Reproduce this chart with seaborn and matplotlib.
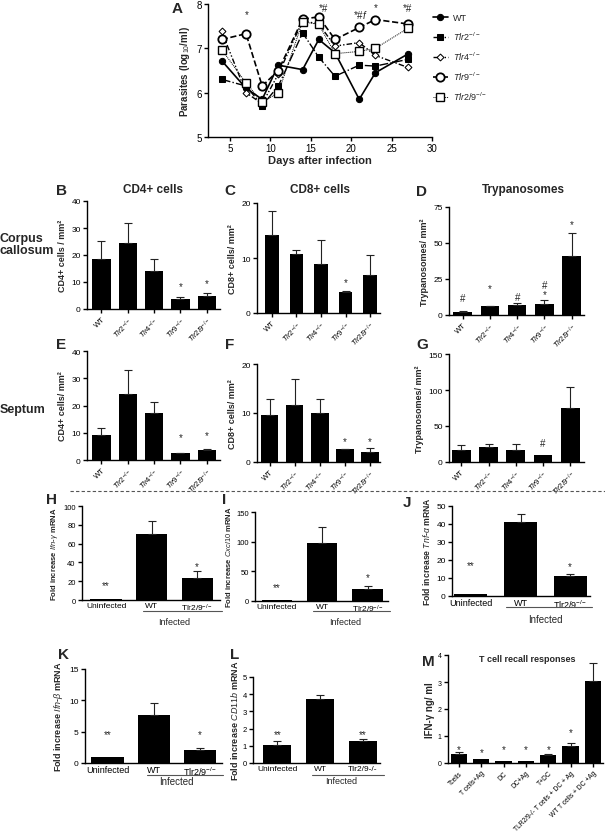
"""Recreate the multi-panel TLR / trypanosome figure."""

import matplotlib
matplotlib.use("Agg")
import matplotlib.pyplot as plt
import numpy as np
import pandas as pd
import seaborn as sns
from matplotlib.lines import Line2D

sns.set_style("ticks")
plt.rcParams["font.family"] = ["Liberation Sans", "DejaVu Sans"]
plt.rcParams["mathtext.fontset"] = "custom"
plt.rcParams["mathtext.rm"] = "Liberation Sans"
plt.rcParams["mathtext.it"] = "Liberation Sans:italic"
plt.rcParams["mathtext.bf"] = "Liberation Sans:bold"
plt.rcParams["axes.linewidth"] = 1.0
plt.rcParams["xtick.major.width"] = 1.0
plt.rcParams["ytick.major.width"] = 1.0
plt.rcParams["xtick.major.size"] = 3
plt.rcParams["ytick.major.size"] = 3

W, H = 605, 837

# ---- Panel A: parasitaemia ----
days = [4, 7, 9, 11, 14, 16, 18, 21, 23, 27]
para_wt = [6.72, 6.10, 5.85, 6.62, 6.52, 7.20, 6.90, 5.85, 6.45, 6.87]
para_tlr2 = [6.30, 6.15, 5.71, 6.15, 7.35, 6.80, 6.37, 6.62, 6.60, 6.75]
para_tlr4 = [7.38, 6.00, 5.75, 6.42, 7.62, 7.55, 7.05, 7.13, 6.84, 6.57]
para_tlr9 = [7.20, 7.33, 6.15, 6.50, 7.66, 7.71, 7.20, 7.47, 7.65, 7.55]
para_tlr29 = [6.97, 6.22, 5.78, 6.00, 7.60, 7.54, 6.88, 6.93, 7.00, 7.45]
a_marks = [(7.1, 7.78, "*"), (16.6, 7.92, "*#"), (21.2, 7.78, "*#$f$"),
           (23.0, 7.92, "*"), (27.0, 7.92, "*#")]

geno = ["WT", r"$\mathit{Tlr2}^{-/-}$", r"$\mathit{Tlr4}^{-/-}$",
        r"$\mathit{Tlr9}^{-/-}$", r"$\mathit{Tlr2/9}^{-/-}$"]

# ---- Panels B-G: histology (mean, sem) ----
cd4_cc = [18.6, 24.6, 14.0, 3.8, 5.0]
cd4_cc_err = [6.5, 7.2, 4.5, 0.7, 0.8]
cd8_cc = [14.2, 10.7, 9.0, 3.9, 7.0]
cd8_cc_err = [4.3, 0.8, 4.2, 0.1, 3.5]
tryp_cc = [2.3, 6.1, 7.0, 7.9, 40.9]
tryp_cc_err = [0.3, 0.4, 1.6, 2.4, 16.0]
cd4_sep = [9.3, 24.1, 17.1, 2.4, 3.6]
cd4_sep_err = [2.4, 9.0, 4.2, 0.2, 0.6]
cd8_sep = [9.5, 11.7, 10.1, 2.6, 2.0]
cd8_sep_err = [3.3, 5.3, 2.7, 0.1, 0.9]
tryp_sep = [17.0, 20.7, 16.0, 9.2, 74.7]
tryp_sep_err = [6.0, 4.6, 9.3, 0.0, 29.0]

# ---- Panels H-L: qPCR ----
pcr_groups = ["Uninfected", "WT", r"Tlr2/9$^{-/-}$"]
ifng = [1.0, 70.7, 23.3]
ifng_err = [0.0, 13.4, 7.1]
cxcl10 = [1.0, 98.0, 20.0]
cxcl10_err = [0.0, 27.0, 5.0]
tnfa = [1.0, 41.0, 11.2]
tnfa_err = [0.0, 4.5, 1.3]
ifnb = [1.0, 7.7, 2.0]
ifnb_err = [0.0, 1.8, 0.35]
cd11b = [1.07, 3.70, 1.26]
cd11b_err = [0.23, 0.23, 0.16]

# ---- Panel M: recall responses ----
recall_groups = ["Tcells", "T cells+Ag", "DC", "DC+Ag", "T+DC",
                 "TLR2/9-/- T cells + DC + Ag", "WT T cells + DC +Ag"]
recall = [0.33, 0.15, 0.09, 0.09, 0.31, 0.64, 3.05]
recall_err = [0.08, 0.0, 0.0, 0.0, 0.02, 0.09, 0.65]

fig = plt.figure(figsize=(W / 100, H / 100), dpi=100)


def px_rect(left, top, right, bottom):
    return [left / W, 1 - bottom / H, (right - left) / W, (bottom - top) / H]


def ftext(x, y, s, **kw):
    fig.text(x / W, 1 - y / H, s, **kw)


def style_axes(ax):
    sns.despine(ax=ax)
    ax.spines["left"].set_color("black")
    ax.spines["bottom"].set_color("black")
    ax.tick_params(colors="black", labelsize=6, pad=1.5)


def bar_panel(rect, labels, means, errs, width, xlim, yticks, ylabel,
              marks, rot=45, tick_fs=5.5, ylab_fs=6.5, cap=3, ytick_fs=6, labelpad=3):
    ax = fig.add_axes(px_rect(*rect))
    df = pd.DataFrame({"group": list(range(len(means))), "value": means})
    sns.barplot(data=df, x="group", y="value", color="black", width=width,
                saturation=1, errorbar=None, ax=ax, linewidth=0)
    pos = np.arange(len(means))
    errs = np.asarray(errs)
    keep = errs > 0
    ax.errorbar(pos[keep], np.asarray(means)[keep],
                yerr=[np.zeros(keep.sum()), errs[keep]], fmt="none",
                ecolor="#222222", elinewidth=0.8, capsize=cap, capthick=0.8)
    ax.set_xlim(*xlim)
    ax.set_ylim(yticks[0], yticks[-1])
    ax.set_yticks(yticks)
    ax.set_xticks(pos)
    if rot:
        ax.set_xticklabels(labels, rotation=rot, ha="right",
                           rotation_mode="anchor", fontsize=tick_fs)
    else:
        ax.set_xticklabels(labels, fontsize=tick_fs)
    ax.set_xlabel("")
    ax.set_ylabel(ylabel, fontsize=ylab_fs, fontweight="bold", labelpad=labelpad)
    style_axes(ax)
    ax.tick_params(axis="x", length=0 if not rot else 3, labelsize=tick_fs)
    ax.tick_params(axis="y", labelsize=ytick_fs)
    for i, y, s in marks:
        ax.text(i, y, s, ha="center", va="center", fontsize=7, clip_on=False)
    return ax


def infected_bracket(ax, x0, x1, yline, ytext, fs=6.5):
    ax.add_line(Line2D([x0, x1], [yline, yline], color="#555555", lw=0.8,
                       transform=ax.get_xaxis_transform(), clip_on=False))
    ax.text(1.5, ytext, "Infected", fontsize=fs,
            ha="center", va="top", transform=ax.get_xaxis_transform())


# ---- Panel A ----
axA = fig.add_axes(px_rect(208, 5, 432, 138))
series = [
    ("WT", para_wt, dict(marker="o", ms=4.5, mfc="black", ls="-", lw=1.2)),
    (geno[1], para_tlr2, dict(marker="s", ms=4.5, mfc="black", ls="-.", lw=1.0)),
    (geno[2], para_tlr4, dict(marker="D", ms=3.5, mfc="white", ls=(0, (4, 1.5, 1, 1.5, 1, 1.5)), lw=1.0)),
    (geno[3], para_tlr9, dict(marker="o", ms=6, mfc="white", mew=1.3, ls="--", lw=1.2)),
    (geno[4], para_tlr29, dict(marker="s", ms=5.5, mfc="white", mew=1.0, ls=(0, (1, 1)), lw=0.7)),
]
for z, (name, vals, kw) in enumerate(series):
    sns.lineplot(x=days, y=vals, ax=axA, color="black", mec="black",
                 label=name, zorder=3 + z, **kw)
axA.set_xlim(2.3, 30)
axA.set_ylim(5, 8)
axA.set_xticks([5, 10, 15, 20, 25, 30])
axA.set_yticks([5, 6, 7, 8])
style_axes(axA)
axA.tick_params(labelsize=7)
axA.set_xlabel("Days after infection", fontsize=8, fontweight="bold", labelpad=1)
axA.set_ylabel(r"Parasites (log$_{10}$/ml)", fontsize=7, fontweight="bold", labelpad=3)
for x, y, s in a_marks:
    axA.text(x, y, s, ha="center", va="center", fontsize=7, clip_on=False)
axA.legend(loc="upper left", bbox_to_anchor=(425 / W, 1 - 6 / H),
           bbox_transform=fig.transFigure, frameon=False, fontsize=6.5,
           handlelength=1.6, labelspacing=0.85, handletextpad=0.6)

# ---- Panels B-G ----
bar_panel((87, 202, 220, 310), geno, cd4_cc, cd4_cc_err, 0.7, (-0.55, 4.5),
          [0, 10, 20, 30, 40], "CD4+ cells / mm²", [(3, 8.6, "*"), (4, 9.6, "*")])
bar_panel((257, 204, 380, 314), geno, cd8_cc, cd8_cc_err, 0.55, (-0.6, 4.4),
          [0, 10, 20], "CD8+ cells/ mm²", [(3, 5.6, "*")])
bar_panel((449, 208, 584, 316), geno, tryp_cc, tryp_cc_err, 0.68, (-0.5, 4.45),
          [0, 25, 50, 75], "Trypanosomes/ mm²",
          [(0, 12, "#"), (1, 19, "*"), (2, 12.8, "#"), (3, 20.5, "#"),
           (3, 14.5, "*"), (4, 63, "*")])
bar_panel((87, 352, 220, 461), geno, cd4_sep, cd4_sep_err, 0.7, (-0.55, 4.5),
          [0, 10, 20, 30, 40], "CD4+ cells/ mm²", [(3, 8.3, "*"), (4, 9.3, "*")])
bar_panel((257, 365, 380, 463), geno, cd8_sep, cd8_sep_err, 0.7, (-0.5, 4.4),
          [0, 10, 20], "CD8+ cells/ mm²", [(3, 4.3, "*"), (4, 4.3, "*")])
bar_panel((449, 355, 584, 463), geno, tryp_sep, tryp_sep_err, 0.69, (-0.45, 4.5),
          [0, 50, 100, 150], "Trypanosomes/ mm²", [(3, 26.7, "#")])

# ---- Panels H-L ----
axH = bar_panel((82, 507, 220, 601), pcr_groups, ifng, ifng_err, 0.69, (-0.53, 2.5),
                [0, 20, 40, 60, 80, 100], r"Fold increase $\mathit{Ifn}$-$\gamma$ mRNA",
                [(0, 16.3, "**"), (2, 35.7, "*")], rot=0, tick_fs=6, ylab_fs=5.5,
                ytick_fs=5.5, labelpad=2)
infected_bracket(axH, 0.8, 2.55, -0.12, -0.18)
axI = bar_panel((255, 513, 388, 602), pcr_groups, cxcl10, cxcl10_err, 0.67, (-0.48, 2.45),
                [0, 50, 100, 150], r"Fold increase $\mathit{Cxcl10}$ mRNA",
                [(0, 23.6, "**"), (2, 41, "*")], rot=0, tick_fs=6, ylab_fs=5.5,
                ytick_fs=5.5, labelpad=2)
infected_bracket(axI, 0.8, 2.5, -0.11, -0.18)
axJ = bar_panel((452, 507, 590, 597), pcr_groups, tnfa, tnfa_err, 0.67, (-0.38, 2.4),
                [0, 10, 20, 30, 40, 50], r"Fold increase $\mathit{Tnf}$-$\alpha$ mRNA",
                [(0, 17, "**"), (2, 16.8, "*")], rot=0, tick_fs=6.5, ylab_fs=6.2)
infected_bracket(axJ, 0.7, 2.45, -0.12, -0.2, fs=7)
axK = bar_panel((85, 670, 222, 764), pcr_groups, ifnb, ifnb_err, 0.7, (-0.49, 2.48),
                [0, 5, 10, 15], r"Fold increase $\mathit{Ifn}$-$\beta$ mRNA",
                [(0, 4.6, "**"), (2, 4.6, "*")], rot=0, tick_fs=6.5, ylab_fs=6.5)
infected_bracket(axK, 0.85, 2.5, -0.13, -0.14, fs=7)
axL = bar_panel((253, 678, 380, 764), pcr_groups, cd11b, cd11b_err, 0.66, (-0.57, 2.4),
                [0, 1, 2, 3, 4, 5], r"Fold increase $\mathit{CD11b}$ mRNA",
                [(0, 1.7, "**"), (2, 1.7, "**")], rot=0, tick_fs=6, ylab_fs=6.5,
                ytick_fs=5.5, labelpad=2)
axL.set_xticklabels(["Uninfected", "WT", "Tlr2/9-/-"], fontsize=6)
infected_bracket(axL, 0.8, 2.5, -0.14, -0.15, fs=6.5)

# ---- Panel M ----
bar_panel((448, 656, 603, 764), recall_groups, recall, recall_err, 0.73, (-0.49, 6.45),
          [0, 1, 2, 3, 4], "IFN-γ ng/ ml",
          [(0, 0.52, "*"), (1, 0.39, "*"), (2, 0.52, "*"), (3, 0.52, "*"),
           (4, 0.52, "*"), (5, 1.13, "*")], tick_fs=4.8, ylab_fs=7, ytick_fs=5,
          labelpad=2)

# ---- figure-level labels ----
letters = [("A", 172, 9), ("B", 56, 191), ("C", 224, 191), ("D", 416, 192),
           ("E", 56, 345), ("F", 225, 345), ("G", 416, 345), ("H", 46, 500),
           ("I", 222, 500), ("J", 403, 503), ("K", 58, 655), ("L", 230, 655),
           ("M", 422, 662)]
for s, x, y in letters:
    ftext(x, y, s, fontsize=11, fontweight="bold", va="center", ha="left")

ftext(153, 190, "CD4+ cells", fontsize=8.5, fontweight="bold", ha="center", va="center")
ftext(320, 190, "CD8+ cells", fontsize=8.5, fontweight="bold", ha="center", va="center")
ftext(523, 190, "Trypanosomes", fontsize=8.5, fontweight="bold", ha="center", va="center")
ftext(527, 660, "T cell recall responses", fontsize=6.5, fontweight="bold", ha="center", va="center")
ftext(0, 245, "Corpus\ncallosum", fontsize=9, fontweight="bold", ha="left", va="center",
      linespacing=1.1)
ftext(0, 410, "Septum", fontsize=9, fontweight="bold", ha="left", va="center")

fig.add_artist(Line2D([70 / W, 1], [1 - 492 / H, 1 - 492 / H], transform=fig.transFigure,
                      color="#555555", lw=0.8, ls=(0, (3, 2))))

fig.savefig("out.png", dpi=100)
